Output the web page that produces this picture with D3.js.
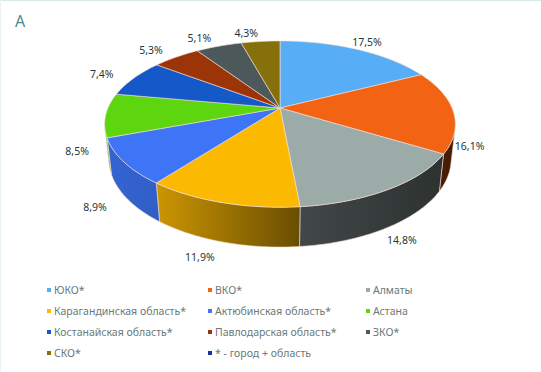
<!DOCTYPE html>
<html>
<head>
<meta charset="utf-8">
<script src="https://cdn.jsdelivr.net/npm/d3@7"></script>
<style>
  body { margin: 0; background: #fff; }
  svg { display: block; }
</style>
</head>
<body>
<svg id="chart" width="541" height="372"></svg>
<script>
// chart data
var regions = ["ЮКО*", "ВКО*", "Алматы", "Карагандинская область*", "Актюбинская область*",
               "Астана", "Костанайская область*", "Павлодарская область*", "ЗКО*", "СКО*",
               "* - город + область"];
var shares = [17.5, 16.1, 14.8, 11.9, 8.9, 8.5, 7.4, 5.3, 5.1, 4.3, 0];
var colors = ["#58aef6", "#f26414", "#9aaba8", "#fbb902", "#3d75f6", "#5dd50f",
              "#1559c9", "#9b3407", "#4c5859", "#85700b", "#1b30a6"];

var svg = d3.select("#chart");

// faint frame lines (top and left only show in the picture)
svg.append("line")
  .attr("x1", 0).attr("x2", 541).attr("y1", 0.5).attr("y2", 0.5)
  .attr("stroke", "#d3ebeb");
svg.append("line")
  .attr("x1", 0.5).attr("x2", 0.5).attr("y1", 0).attr("y2", 372)
  .attr("stroke", "#eaf4f4");

svg.append("text")
  .attr("x", 15).attr("y", 27)
  .style("font-family", "Noto Sans")
  .style("font-size", "16px")
  .style("fill", "#4d8890")
  .text("А");

// perspective projection of a tilted disk
var cx = 280, cy = 108,
    focal = 788, dist = 4.58,
    tilt = Math.asin(0.465),
    depth = 0.233;
var sn = Math.sin(tilt), cs = Math.cos(tilt);

function project(x, z, h) {
  var u = z * sn + h * cs,
      w = dist + z * cs - h * sn;
  return [cx + focal * x / w, cy - focal * u / w];
}
function rim(a, r, h) {
  return project(r * Math.sin(a), r * Math.cos(a), h);
}
function arcPoints(a0, a1, r, h) {
  var n = Math.max(2, Math.ceil(Math.abs(a1 - a0) / (Math.PI / 180))),
      pts = [];
  for (var i = 0; i <= n; i++) pts.push(rim(a0 + (a1 - a0) * i / n, r, h));
  return pts;
}

var pie = d3.pie().sort(null).value(function(d) { return d; });
var arcs = pie(shares);

// wall is visible where cos(a) < -1 / (dist * cos(tilt))
var limit = Math.acos(-1 / (dist * cs));
var visMin = limit, visMax = 2 * Math.PI - limit;

// side shading: lighter on the left, dark on the right
var shade = d3.scaleLinear()
  .domain([105, 160, 300, 455])
  .range([0.86, 0.8, 0.42, 0.28]);
var defs = svg.append("defs");
var line = d3.line();

var walls = svg.append("g");
arcs.forEach(function(d, i) {
  var a0 = Math.max(d.startAngle, visMin),
      a1 = Math.min(d.endAngle, visMax);
  if (a1 <= a0) return;
  var grad = defs.append("linearGradient")
    .attr("id", "side" + i)
    .attr("gradientUnits", "userSpaceOnUse")
    .attr("x1", 105).attr("x2", 455).attr("y1", 0).attr("y2", 0);
  shade.domain().forEach(function(x) {
    grad.append("stop")
      .attr("offset", (x - 105) / 350)
      .attr("stop-color", d3.interpolateRgb("#000", colors[i])(shade(x)));
  });
  var pts = arcPoints(a0, a1, 1, 0).concat(arcPoints(a1, a0, 1, -depth));
  walls.append("path")
    .attr("d", line(pts) + "Z")
    .attr("fill", "url(#side" + i + ")")
    .attr("stroke", "#f6ddd6")
    .attr("stroke-width", 0.6);
});

var tops = svg.append("g");
arcs.forEach(function(d, i) {
  if (d.endAngle - d.startAngle <= 0) return;
  var pts = [project(0, 0, 0)].concat(arcPoints(d.startAngle, d.endAngle, 1, 0));
  tops.append("path")
    .attr("d", line(pts) + "Z")
    .attr("fill", colors[i])
    .attr("stroke", "#f6ddd6")
    .attr("stroke-width", 0.6);
});

// value labels
var fmt = function(v) { return v.toFixed(1).replace(".", ",") + "%"; };
var labels = svg.append("g")
  .style("font-family", "Noto Sans")
  .style("font-size", "10.5px")
  .style("fill", "#1f3839");
arcs.forEach(function(d, i) {
  if (d.value <= 0) return;
  var mid = (d.startAngle + d.endAngle) / 2,
      front = Math.cos(mid) < 0,
      p = rim(mid, front ? 1.12 : 1.15, front ? -depth : 0),
      left = Math.sin(mid) < -0.05;
  labels.append("text")
    .attr("x", p[0])
    .attr("y", p[1])
    .attr("dy", "0.35em")
    .attr("text-anchor", left ? "end" : "middle")
    .text(fmt(d.value));
});

// legend
var colX = [47, 208, 366],
    rowY = d3.scaleLinear().domain([0, 1]).range([290, 311]);
var legend = svg.append("g")
  .style("font-family", "Noto Sans")
  .style("font-size", "10.5px")
  .style("fill", "#6a7979");
regions.forEach(function(name, i) {
  var g = legend.append("g")
    .attr("transform", "translate(" + colX[i % 3] + "," + rowY(Math.floor(i / 3)) + ")");
  g.append("rect")
    .attr("x", 0).attr("y", -2)
    .attr("width", 4).attr("height", 4)
    .attr("fill", colors[i]);
  g.append("text")
    .attr("x", 7)
    .attr("dy", "0.35em")
    .text(name);
});
</script>
</body>
</html>
